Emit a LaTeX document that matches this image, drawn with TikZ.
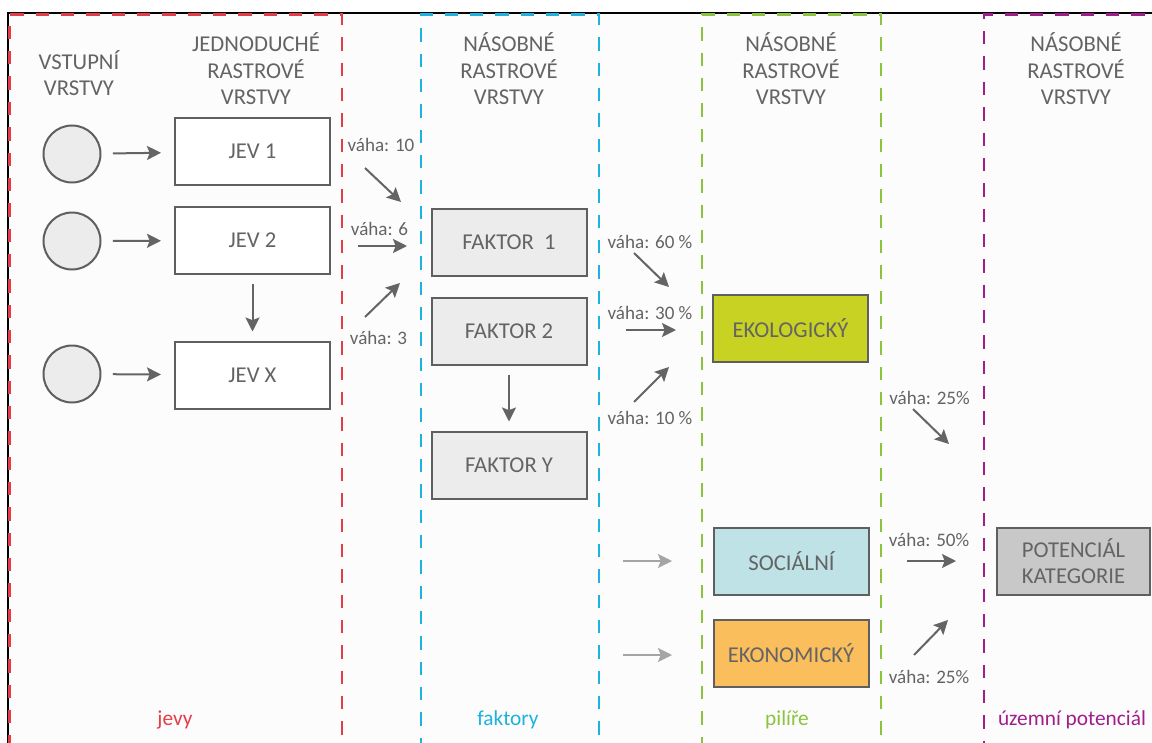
\documentclass[tikz,border=0pt]{standalone}
\usepackage{fontspec}
\setmainfont{Carlito}
\usetikzlibrary{arrows.meta}
\definecolor{txt}{RGB}{100,100,100}
\definecolor{strk}{RGB}{95,95,95}
\definecolor{arr}{RGB}{100,100,100}
\definecolor{larr}{RGB}{165,165,165}
\definecolor{cred}{RGB}{228,60,72}
\definecolor{cblue}{RGB}{30,178,222}
\definecolor{cgreen}{RGB}{140,195,60}
\definecolor{cpurple}{RGB}{160,30,140}
\definecolor{fgray}{RGB}{236,236,236}
\definecolor{feko}{RGB}{200,210,35}
\definecolor{fsoc}{RGB}{190,226,230}
\definecolor{fecon}{RGB}{250,190,92}
\definecolor{fpot}{RGB}{200,200,200}
\definecolor{bgc}{RGB}{252,252,252}
\begin{document}
\begin{tikzpicture}[x=0.75pt,y=-0.75pt,
  col/.style={dash pattern=on 10pt off 9pt, line width=1.8pt},
  head/.style={text=txt, align=center, font=\fontsize{17}{19.9}\selectfont},
  box/.style={draw=strk, line width=1.5pt, minimum width=116.25pt, minimum height=50.25pt, text=txt, align=center, font=\fontsize{17}{20}\selectfont, inner sep=0pt},
  circ/.style={circle, draw=strk, fill=fgray, line width=1.5pt, minimum size=42.75pt, inner sep=0pt},
  wlab/.style={text=txt, font=\fontsize{14.3}{17}\selectfont, inner sep=0pt},
  blab/.style={font=\fontsize{16}{19}\selectfont, inner sep=0pt},
  warr/.style={draw=arr, line width=1.5pt, -{Stealth[length=10.5pt,width=10.5pt,inset=2pt]}},
  larrow/.style={draw=larr, line width=1.5pt, -{Stealth[length=10.5pt,width=10.5pt,inset=2pt]}}
]
\useasboundingbox (0,0) rectangle (1152,742);
\clip (0,0) rectangle (1152,742);
\fill[white] (0,0) rectangle (1152,742);
\fill[bgc] (8,13) rectangle (1160,760);
\draw[black, line width=1.1pt] (8,760) -- (8,13) -- (1160,13);
% columns
\draw[cred,col] (342,760) -- (342,14.5) -- (9.5,14.5) -- (9.5,760);
\draw[cblue,col] (599,760) -- (599,14.5) -- (421,14.5) -- (421,760);
\draw[cgreen,col] (881,760) -- (881,14.5) -- (702,14.5) -- (702,760);
\draw[cpurple,col] (1170,14.5) -- (984,14.5) -- (984,760);
% headings
\node[head] (h1) at (79,73) {VSTUPNÍ\\VRSTVY};
\node[head] (h2) at (256,69) {JEDNODUCHÉ\\RASTROVÉ\\VRSTVY};
\node[head] (h3) at (509,69) {NÁSOBNÉ\\RASTROVÉ\\VRSTVY};
\node[head] (h4) at (791,69) {NÁSOBNÉ\\RASTROVÉ\\VRSTVY};
\node[head] (h5) at (1076,69) {NÁSOBNÉ\\RASTROVÉ\\VRSTVY};
% circles
\node[circ] (c1) at (72,154) {};
\node[circ] (c2) at (72,241) {};
\node[circ] (c3) at (72,374) {};
% jevy
\node[box, fill=white] (j1) at (252.5,151.5) {JEV 1};
\node[box, fill=white] (j2) at (252.5,240.5) {JEV 2};
\node[box, fill=white] (jx) at (252.5,375) {JEV X};
% faktory
\node[box, fill=fgray] (f1) at (509,242) {FAKTOR\ \ 1};
\node[box, fill=fgray] (f2) at (509,331.5) {FAKTOR 2};
\node[box, fill=fgray] (fy) at (509,465) {FAKTOR Y};
% pilire
\node[box, fill=feko] (eko) at (790.5,328.5) {EKOLOGICKÝ};
\node[box, fill=fsoc] (soc) at (791.5,561) {SOCIÁLNÍ};
\node[box, fill=fecon] (econ) at (791,653.5) {EKONOMICKÝ};
\node[box, fill=fpot, minimum width=114.75pt] (pot) at (1073.5,561) {POTENCIÁL\\KATEGORIE};
% arrows circle -> box
\draw[warr, shorten <=8.6pt, shorten >=9.75pt] (c1) -- (j1);
\draw[warr, shorten <=8.6pt, shorten >=9.75pt] (c2) -- (j2);
\draw[warr, shorten <=8.6pt, shorten >=9.75pt] (c3) -- (jx);
\draw[warr, shorten <=6.75pt, shorten >=6.75pt] (j2) -- (jx);
\draw[warr, shorten <=6.75pt, shorten >=6.75pt] (f2) -- (fy);
% weight labels
\node[wlab] (w1) at (381,145) {váha: 10};
\node[wlab] (w2) at (379.5,229) {váha: 6};
\node[wlab] (w3) at (378.5,338) {váha: 3};
\node[wlab] (w4) at (650,242) {váha: 60 \%};
\node[wlab] (w5) at (650,313) {váha: 30 \%};
\node[wlab] (w6) at (650,418) {váha: 10 \%};
\node[wlab] (w7) at (929.5,398) {váha: 25\%};
\node[wlab] (w8) at (929,540) {váha: 50\%};
\node[wlab] (w9) at (929,677) {váha: 25\%};
% weight arrow coordinates
\coordinate (a1s) at (365,168); \coordinate (a1e) at (401,202);
\coordinate (a2s) at (358,246); \coordinate (a2e) at (407,246);
\coordinate (a3s) at (365,317); \coordinate (a3e) at (400,283);
\coordinate (b1s) at (634,253); \coordinate (b1e) at (669,287);
\coordinate (b2s) at (626,330); \coordinate (b2e) at (676,330);
\coordinate (b3s) at (634,402); \coordinate (b3e) at (669,367);
\coordinate (l1s) at (623,561); \coordinate (l1e) at (672,561);
\coordinate (l2s) at (623,655); \coordinate (l2e) at (672,655);
\coordinate (d1s) at (913,409); \coordinate (d1e) at (949,444);
\coordinate (d2s) at (907,561); \coordinate (d2e) at (956,561);
\coordinate (d3s) at (914,655); \coordinate (d3e) at (948,620);
\draw[warr] (a1s) -- (a1e);
\draw[warr] (a2s) -- (a2e);
\draw[warr] (a3s) -- (a3e);
\draw[warr] (b1s) -- (b1e);
\draw[warr] (b2s) -- (b2e);
\draw[warr] (b3s) -- (b3e);
\draw[larrow] (l1s) -- (l1e);
\draw[larrow] (l2s) -- (l2e);
\draw[warr] (d1s) -- (d1e);
\draw[warr] (d2s) -- (d2e);
\draw[warr] (d3s) -- (d3e);
% bottom labels
\node[blab, text=cred] (lb1) at (175,720) {jevy};
\node[blab, text=cblue] (lb2) at (508,720) {faktory};
\node[blab, text=cgreen] (lb3) at (787,720) {pilíře};
\node[blab, text=cpurple] (lb4) at (1072,720) {územní potenciál};
\end{tikzpicture}
\end{document}
